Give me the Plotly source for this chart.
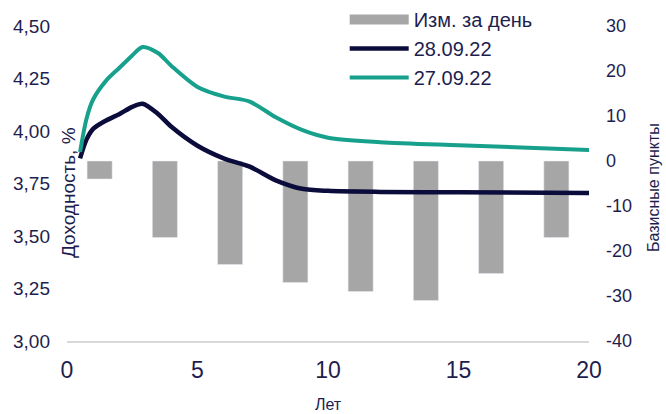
import plotly.graph_objects as go

# ---- data ----
tenors = [0.5, 0.75, 1, 1.5, 2, 2.5, 2.9, 3.5, 4, 5, 6, 7, 8, 9, 10, 12, 15, 20]
yield_28 = [3.87, 3.96, 4.01, 4.05, 4.08, 4.115, 4.13, 4.08, 4.02, 3.93, 3.87, 3.83, 3.765, 3.725, 3.715, 3.71, 3.708, 3.705]
yield_27 = [3.90, 4.06, 4.15, 4.24, 4.30, 4.36, 4.40, 4.37, 4.31, 4.21, 4.165, 4.14, 4.065, 4.005, 3.968, 3.947, 3.932, 3.91]
bar_x = [1.25, 3.75, 6.25, 8.75, 11.25, 13.75, 16.25, 18.75]
bar_change = [-4, -17, -23, -27, -29, -31, -25, -17]

left_ticks = [3.00, 3.25, 3.50, 3.75, 4.00, 4.25, 4.50]
right_ticks = [-40, -30, -20, -10, 0, 10, 20, 30]
x_ticks = [0, 5, 10, 15, 20]

NAVY = "#0c0c3c"
TEAL = "#17a08c"
GRAY = "#a6a6a6"
TXT = "#1e1e4e"
FONT = "Liberation Sans, Arial, sans-serif"

fig = go.Figure()
fig.add_trace(go.Bar(x=bar_x, y=bar_change, name="Изм. за день", marker_color=GRAY,
                     width=0.96, yaxis="y", showlegend=False, hoverinfo="skip"))
# legend proxy giving the wide rectangular swatch of the bar series
fig.add_trace(go.Scatter(x=[None], y=[None], name="Изм. за день", mode="lines",
                         line=dict(color=GRAY, width=11), yaxis="y", legendgroup="a"))
fig.add_trace(go.Scatter(x=tenors, y=yield_28, name="28.09.22", mode="lines",
                         line=dict(color=NAVY, width=4.5, shape="spline", smoothing=0.8),
                         yaxis="y2", legendgroup="b"))
fig.add_trace(go.Scatter(x=tenors, y=yield_27, name="27.09.22", mode="lines",
                         line=dict(color=TEAL, width=4, shape="spline", smoothing=0.8),
                         yaxis="y2", legendgroup="c"))

fig.update_layout(
    width=666, height=414,
    margin=dict(l=67, r=77, t=26, b=73, autoexpand=False),
    paper_bgcolor="white", plot_bgcolor="white",
    font=dict(family=FONT, color=TXT, size=17),
    showlegend=True,
    legend=dict(x=0.532, y=1.0, xref="paper", yref="container",
                xanchor="left", yanchor="top",
                font=dict(size=20, color=TXT), bgcolor="rgba(0,0,0,0)",
                itemwidth=59, tracegroupgap=13, traceorder="normal"),
    xaxis=dict(range=[0, 20], tickvals=x_ticks, ticktext=[str(v) for v in x_ticks],
               showgrid=False, zeroline=False, showline=True, linecolor="#d9d9d9",
               linewidth=1.5, ticks="", tickfont=dict(size=23, color=TXT),
               ticklabelstandoff=8, automargin=False),
    yaxis=dict(range=[-40, 30], side="right", tickvals=right_ticks,
               ticktext=[str(v) for v in right_ticks], showgrid=False, zeroline=False,
               showline=False, ticks="", tickfont=dict(size=18, color=TXT),
               ticklabelstandoff=16, automargin=False),
    yaxis2=dict(range=[3, 4.5], side="left", overlaying="y", anchor="x",
                tickvals=left_ticks,
                ticktext=[f"{v:.2f}".replace(".", ",") for v in left_ticks],
                showgrid=False, zeroline=False, showline=False, ticks="",
                tickfont=dict(size=19, color=TXT), ticklabelstandoff=16,
                automargin=False),
    annotations=[
        dict(text="Доходность, %", x=0.004, y=0.47, xref="paper", yref="paper",
             xanchor="center", yanchor="middle",
             textangle=-90, showarrow=False, font=dict(size=19, color=TXT)),
        dict(text="Базисные пункты", x=1.1245, y=0.489, xref="paper", yref="paper",
             xanchor="center", yanchor="middle",
             textangle=-90, showarrow=False, font=dict(size=16, color=TXT)),
        dict(text="Лет", x=0.5, y=-0.203, xref="paper", yref="paper",
             xanchor="center", yanchor="middle",
             showarrow=False, font=dict(size=16, color=TXT)),
    ],
)

fig.write_html("out.html", config={"displayModeBar": False},
               post_script="document.body.style.margin='0';")
